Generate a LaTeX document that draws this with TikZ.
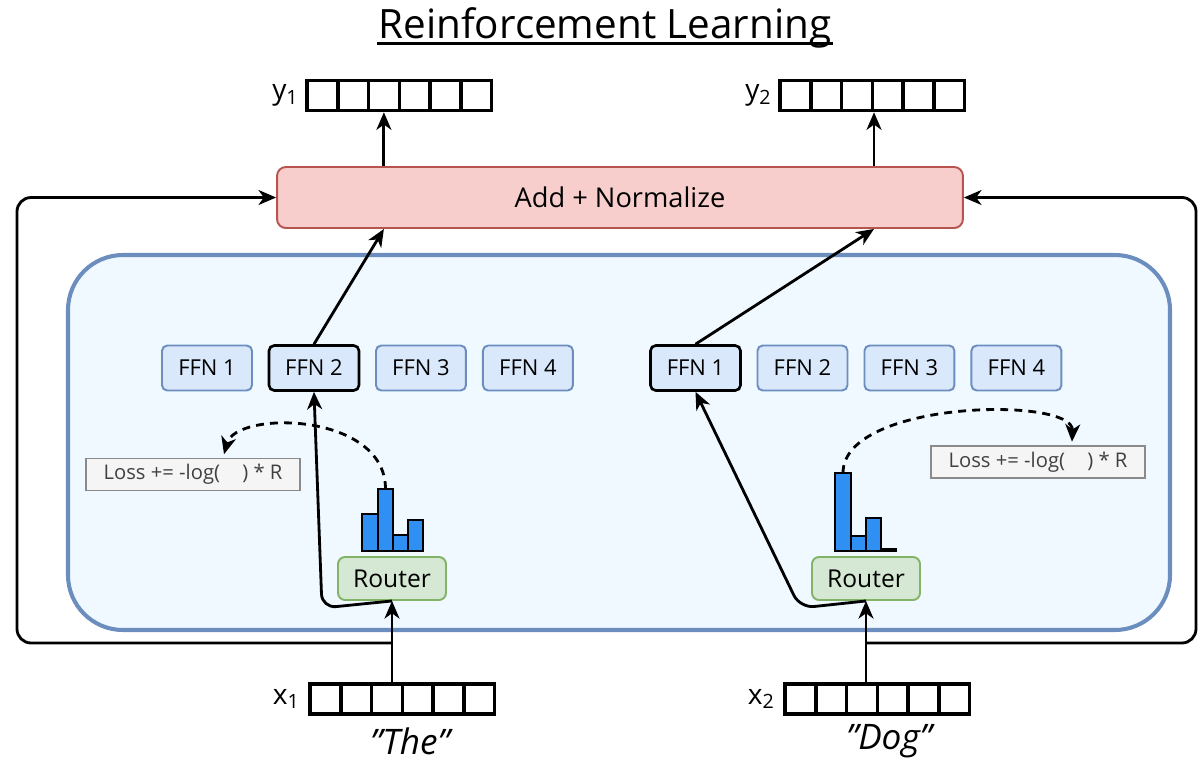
\documentclass[tikz,border=0pt]{standalone}
\usepackage{fontspec}
\setmainfont{Open Sans}
\usetikzlibrary{positioning}
\usetikzlibrary{arrows.meta}

\definecolor{addfill}{HTML}{F8CECC}
\definecolor{addline}{HTML}{B85450}
\definecolor{ffnfill}{HTML}{DAE8FC}
\definecolor{ffnline}{HTML}{6C8EBF}
\definecolor{moefill}{HTML}{EFF9FF}
\definecolor{routerfill}{HTML}{D5E8D4}
\definecolor{routerline}{HTML}{82B366}
\definecolor{lossfill}{HTML}{F5F5F5}
\definecolor{lossline}{HTML}{8A8A8A}
\definecolor{losstext}{HTML}{404040}
\definecolor{barblue}{HTML}{2F8FF3}

\tikzset{
  ffn/.style={draw=ffnline, fill=ffnfill, rounded corners=3pt, line width=1.1pt,
    minimum width=1.8cm, minimum height=0.9cm, font=\fontsize{12.5}{14}\selectfont},
  ffn_hit/.style={ffn, draw=black, line width=1.5pt},
  router/.style={draw=routerline, fill=routerfill, rounded corners=4pt, line width=1.1pt,
    minimum width=2.16cm, minimum height=0.86cm, font=\fontsize{14}{16}\selectfont},
  loss/.style={draw=lossline, fill=lossfill, line width=0.9pt, text=losstext,
    minimum width=4.28cm, minimum height=0.62cm, font=\fontsize{11.5}{13}\selectfont},
  cell/.style={draw, line width=2pt, minimum width=0.615cm, minimum height=0.6cm, inner sep=0},
  bar/.style={draw, fill=barblue, line width=1pt},
  vlabel/.style={anchor=east, inner sep=1pt, font=\fontsize{16}{18}\selectfont},
  word/.style={font=\fontsize{20}{22}\selectfont\itshape}
}

\begin{document}
\begin{tikzpicture}[x=0.02cm, y=-0.02cm, >={Stealth[length=10pt, width=8.5pt, inset=3pt]},
       node distance=2.14cm, on grid, line width=1.6pt]
       \useasboundingbox (0,0) rectangle (1198,765);

       \node[inner sep=0, font=\fontsize{23}{26}\selectfont] (title) at (605,28) {Reinforcement Learning};
       \draw[line width=1.6pt] ([yshift=-3pt]title.base west) -- ([yshift=-3pt]title.base east);

       % output / input vectors
       \foreach \i in {0,...,5} {
         \node[cell] (y1_\i) at (322.4+30.75*\i, 95.5) {};
         \node[cell] (y2_\i) at (795.4+30.75*\i, 95.5) {};
         \node[cell] (x1_\i) at (325.4+30.75*\i, 699) {};
         \node[cell] (x2_\i) at (800.4+30.75*\i, 699) {};
       }
       \node[vlabel] (y1_lbl) at ([xshift=-2pt]y1_0.west) {y\textsubscript{1}};
       \node[vlabel] (y2_lbl) at ([xshift=-2pt]y2_0.west) {y\textsubscript{2}};
       \node[vlabel] (x1_lbl) at ([xshift=-3pt]x1_0.west) {x\textsubscript{1}};
       \node[vlabel] (x2_lbl) at ([xshift=-3pt]x2_0.west) {x\textsubscript{2}};
       \node[word] (The) at (410,741) {"The"};
       \node[word] (Dog) at (889,741) {"Dog"};

       \node[draw=addline, fill=addfill, rounded corners=5pt, line width=1.1pt,
         minimum width=13.72cm, minimum height=1.22cm, font=\fontsize{15.5}{18}\selectfont]
         (Add_Norm) at (620,197.5) {Add + Normalize};

       \draw[draw=ffnline, fill=moefill, line width=2.3pt, rounded corners=1.1cm]
         (68,255) rectangle (1170,630);

       % experts
       \node[ffn] (FFN1_The) at (207,368) {FFN 1};
       \node[ffn_hit, right=of FFN1_The] (FFN2_The) {FFN 2};
       \node[ffn, right=of FFN2_The] (FFN3_The) {FFN 3};
       \node[ffn, right=of FFN3_The] (FFN4_The) {FFN 4};
       \node[ffn_hit] (FFN1_Dog) at (695.5,368) {FFN 1};
       \node[ffn, right=of FFN1_Dog] (FFN2_Dog) {FFN 2};
       \node[ffn, right=of FFN2_Dog] (FFN3_Dog) {FFN 3};
       \node[ffn, right=of FFN3_Dog] (FFN4_Dog) {FFN 4};

       \node[router] (Router_The) at (392,578.5) {Router};
       \node[router] (Router_Dog) at (866,578.5) {Router};

       \node[loss] (Loss_The) at (193,474.5) {Loss += -log(\hspace{1.1em}) * R};
       \node[loss] (Loss_Dog) at (1038,462) {Loss += -log(\hspace{1.1em}) * R};

       % router scores
       \draw[bar] (362,551) rectangle (378,514);
       \draw[bar] (378,551) rectangle (393,489);
       \draw[bar] (393,551) rectangle (408,535);
       \draw[bar] (408,551) rectangle (423,520);
       \draw[bar] (835,551) rectangle (851,473);
       \draw[bar] (851,551) rectangle (866,536);
       \draw[bar] (866,551) rectangle (881,518);
       \draw[bar] (881,551) rectangle (896,549);
       \coordinate (top_The) at (385.5,489);
       \coordinate (top_Dog) at (843,473);

       \draw[->, dash pattern=on 4.5pt off 3.5pt] (top_The) .. controls (385.5,412) and (236,410) .. ([xshift=0.62cm, yshift=2pt]Loss_The.north);
       \draw[->, dash pattern=on 4.5pt off 3.5pt] (top_Dog) .. controls (843,400) and (1074,396) .. ([xshift=0.68cm, yshift=2pt]Loss_Dog.north);

       % routing
       \draw[->] (Router_The.south |- x1_2.north) -- (Router_The.south);
       \draw[->] (Router_Dog.south |- x2_2.north) -- (Router_Dog.south);
       \draw[->, rounded corners=8pt] (Router_The.south) -- (322,608) -- (FFN2_The.south);
       \draw[->, rounded corners=8pt] (Router_Dog.south) -- (800,608) -- (FFN1_Dog.south);
       \draw[->] (FFN2_The.north) -- (Add_Norm.south -| y1_2);
       \draw[->] (FFN1_Dog.north) -- (Add_Norm.south -| y2_2.east);
       \draw[->] (Add_Norm.north -| y1_2) -- (y1_2.south);
       \draw[->] (Add_Norm.north -| y2_2.east) -- (y2_2.south east);

       % residual
       \coordinate (res_y) at (0,643);
       \draw[->, rounded corners=8pt] (Router_The.south |- res_y) -- (17,643) -- (17,197.5) -- (Add_Norm.west);
       \draw[->, rounded corners=8pt] (Router_Dog.south |- res_y) -- (1196,643) -- (1196,197.5) -- (Add_Norm.east);

\end{tikzpicture}
\end{document}
